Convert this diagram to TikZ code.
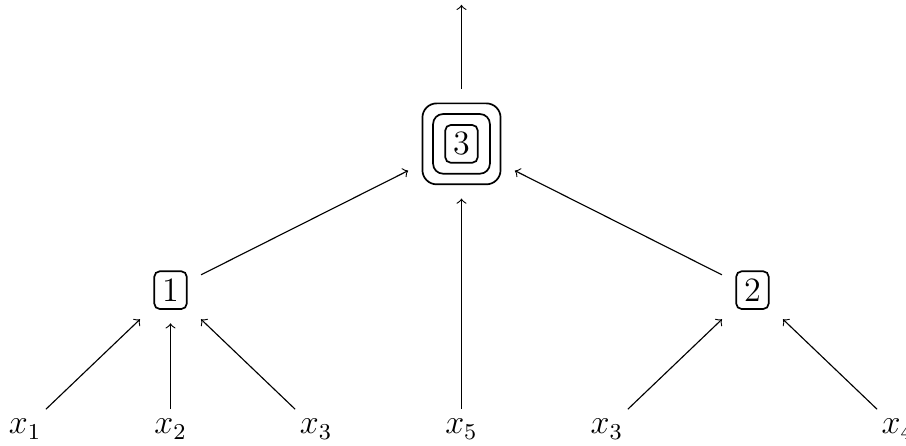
\documentclass[tikz,border=0pt]{standalone}
\begin{document}
\begin{tikzpicture}[
	font = \large,
	box/.style = {draw, semithick, rounded corners = 2pt, inner sep = 2.8pt, outer sep = 5pt},
	ring/.style = {draw, semithick, outer sep = 5pt}
]
	%	grid setup
	
	\def\dx{1.8}
	\def\ya{1.72}
	\def\yb{3.53}
	\def\ytop{5.25}
	
	\useasboundingbox (-0.31, -0.2) rectangle (10.9, 5.31);
	
	%	leaves
	\node (x1) at (0, 0) {$x_1$};
	\node (x2) at (\dx, 0) {$x_2$};
	\node (x3a) at (2*\dx, 0) {$x_3$};
	\node (x5) at (3*\dx, 0) {$x_5$};
	\node (x3b) at (4*\dx, 0) {$x_3$};
	\node (x4) at (6*\dx, 0) {$x_4$};
	
	%	boxes
	\node[box] (n1) at (\dx, \ya) {$1$};
	\node[box] (n2) at (5*\dx, \ya) {$2$};
	\node[box] (n3) at (3*\dx, \yb) {$3$};
	\node[ring, rounded corners = 3.5pt, minimum width = 20pt, minimum height = 21pt] (n3m) at (n3) {};
	\node[ring, rounded corners = 5pt, minimum width = 27.5pt, minimum height = 28.5pt] (n3o) at (n3) {};
	\coordinate (top) at (3*\dx, \ytop);
	
	%	arrows
	\draw[->] (x1) -- (n1);
	\draw[->] (x2) -- (n1);
	\draw[->] (x3a) -- (n1);
	\draw[->] (x3b) -- (n2);
	\draw[->] (x4) -- (n2);
	\draw[->] (x5) -- (n3o);
	\draw[->] (n1) -- (n3o);
	\draw[->] (n2) -- (n3o);
	\draw[->] (n3o) -- (top);
\end{tikzpicture}
\end{document}
